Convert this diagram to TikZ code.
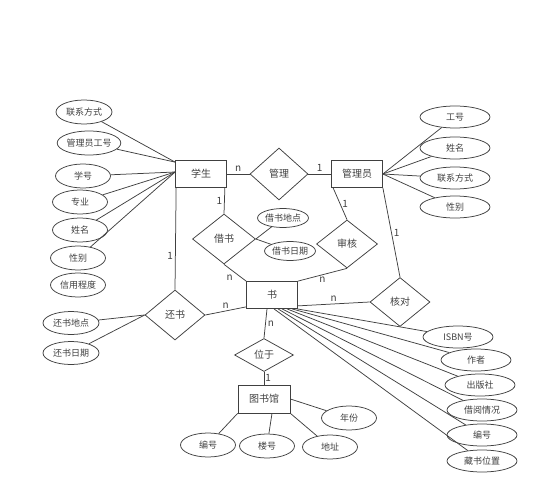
\documentclass[tikz,border=0pt]{standalone}
\usepackage{fontspec}
\setmainfont{Noto Sans CJK SC}
\usetikzlibrary{shapes.geometric,calc}

\tikzset{
  ent/.style={draw, rectangle, minimum width=51pt, minimum height=27pt, inner sep=1pt,
    font=\fontsize{10pt}{12pt}\selectfont},
  rel/.style={draw, diamond, minimum width=60pt, minimum height=50pt, inner sep=0pt,
    font=\fontsize{10pt}{12pt}\selectfont},
  attr/.style={draw, ellipse, minimum width=55pt, minimum height=24pt, inner sep=0pt},
  wattr/.style={attr, minimum width=70pt, minimum height=22pt},
  lbl/.style={font=\fontsize{10pt}{12pt}\selectfont, inner sep=2pt},
}

\begin{document}
\begin{tikzpicture}[x=1pt,y=-1pt, line width=0.75pt, color=black!75,
  font=\fontsize{9pt}{11pt}\selectfont]
\useasboundingbox (0,0) rectangle (546,500);

% entities and relations
\node[ent] (stu) at (201,174) {学生};
\node[rel, minimum width=58pt, minimum height=52pt] (mg) at (279,174) {管理};
\node[ent] (adm) at (357,174) {管理员};
\node[rel, minimum width=63pt] (brw) at (224,239) {借书};
\node[rel, minimum width=61pt, minimum height=48pt] (chk) at (347,244) {审核};
\node[rel, minimum height=49pt] (ver) at (400,302) {核对};
\node[rel] (ret) at (175,315) {还书};
\node[ent] (book) at (272,295) {书};
\node[rel, minimum width=59pt, minimum height=33pt] (loc) at (264,355) {位于};
\node[ent, minimum width=52pt, minimum height=28pt] (lib) at (264,399) {图书馆};

% attributes of 学生
\node[attr, minimum width=56pt] (s1) at (84,112) {联系方式};
\node[attr, minimum width=58pt] (s2) at (89,143) {管理员工号};
\node[attr] (s3) at (83,176) {学号};
\node[attr] (s4) at (80,202) {专业};
\node[attr] (s5) at (80,230) {姓名};
\node[attr] (s6) at (78,258) {性别};
\node[attr] (s7) at (78,285) {信用程度};

% attributes of 管理员
\node[wattr] (a1) at (455,117) {工号};
\node[wattr] (a2) at (455,148) {姓名};
\node[wattr] (a3) at (455,178) {联系方式};
\node[wattr] (a4) at (455,207) {性别};

% attributes of 借书 / 还书
\node[attr, minimum width=47pt, minimum height=19pt] (b1) at (283,218) {借书地点};
\node[attr, minimum width=49pt, minimum height=19pt] (b2) at (290,251) {借书日期};
\node[attr, minimum width=56pt, minimum height=23pt] (r1) at (71,323) {还书地点};
\node[attr, minimum width=56pt, minimum height=23pt] (r2) at (71,353) {还书日期};

% attributes of 图书馆
\node[attr] (l1) at (208,445) {编号};
\node[attr] (l2) at (267,446) {楼号};
\node[attr] (l3) at (330,447) {地址};
\node[attr] (l4) at (349,418) {年份};

% attributes of 书
\node[wattr] (k1) at (458,337) {ISBN号};
\node[wattr] (k2) at (476,360) {作者};
\node[wattr] (k3) at (480,385) {出版社};
\node[wattr] (k4) at (482,410) {借阅情况};
\node[wattr] (k5) at (482,435) {编号};
\node[wattr] (k6) at (482,461) {藏书位置};

% attribute lines
\foreach \a in {s1,s2} \draw (\a) -- ([yshift=-2pt]stu.north west);
\foreach \a in {s3,s4,s5,s6} \draw (\a) -- ([yshift=2pt]stu.west);
\foreach \a in {a1,a2,a3,a4} \draw (adm.east) -- (\a);
\foreach \a in {b1,b2} \draw (brw.east) -- (\a);
\foreach \a in {r1,r2} \draw (ret.west) -- (\a);
\draw (lib.south west) -- (l1);
\draw ([xshift=8pt]lib.south) -- (l2);
\draw (lib.south east) -- (l3);
\draw (lib.east) -- (l4);
\foreach \a/\s in {k1/25,k2/20,k3/15,k4/10,k5/6,k6/2}
  \draw ([xshift=\s pt]book.south) -- (\a);

% relation lines
\draw (stu.east) -- node[lbl,above]{n} (mg.west);
\draw (mg.east) -- node[lbl,above]{1} (adm.west);
\draw ([xshift=-2pt]stu.south east) -- node[lbl,left]{1} (brw.north);
\draw (brw.south) -- node[lbl,below left]{n} (book.north west);
\draw ([xshift=2pt]adm.south west) -- node[lbl,right]{1} (chk.north);
\draw (chk.south) -- node[lbl,below]{n} (book.north east);
\draw (adm.south east) -- node[lbl,right]{1} (ver.north);
\draw ([yshift=3pt]book.south east) -- node[lbl,above]{n} (ver.west);
\draw ([xshift=1pt]stu.south west) -- node[lbl,left,pos=0.67]{1} (ret.north);
\draw (ret.east) -- node[lbl,above]{n} ([yshift=2pt]book.south west);
\draw ([xshift=-5pt]book.south) -- node[lbl,right]{n} (loc.north);
\draw (loc.south) -- node[lbl,right,inner sep=1pt]{1} (lib.north);
\end{tikzpicture}
\end{document}
